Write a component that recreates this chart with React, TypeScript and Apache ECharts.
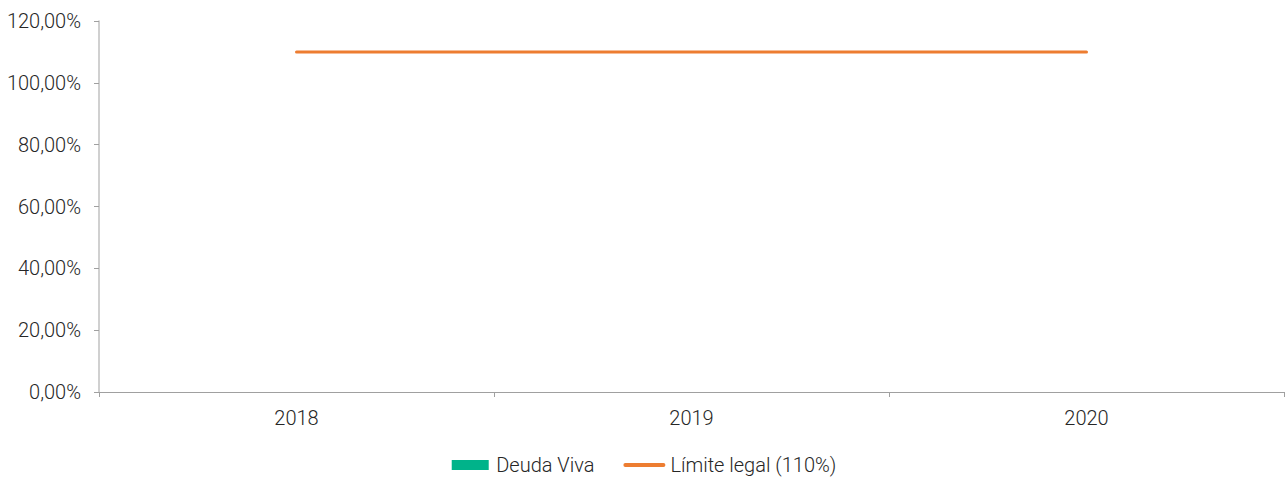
import React, { useEffect, useRef } from "react";
import * as echarts from "echarts";

const categories = ["2018", "2019", "2020"];
const deudaViva = [0, 0, 0];
const limiteLegal = [110, 110, 110];
const yTicks = { min: 0, max: 120, interval: 20 };

export default function App() {
  const ref = useRef<HTMLDivElement>(null);
  useEffect(() => {
    document.body.style.margin = "0";
    const chart = echarts.init(ref.current!, null, { renderer: "svg" });
    const font = { fontFamily: "Roboto", fontWeight: 300 as any, fontSize: 20, color: "#262626" };
    chart.setOption({
      animation: false,
      grid: { left: 99, right: 4, top: 21, bottom: 86, containLabel: false },
      legend: {
        top: 455,
        padding: 0,
        left: "center",
        itemWidth: 42,
        itemHeight: 10,
        itemGap: 29,
        symbolKeepAspect: true,
        textStyle: { ...font },
        data: [
          { name: "Deuda Viva", icon: "path://M0,0 H37 V10 H0 Z" },
          {
            name: "Límite legal (110%)",
            icon: "path://M2,0 H42 A2,2 0 0 1 42,4 H2 A2,2 0 0 1 2,0 Z",
          },
        ],
      },
      xAxis: {
        type: "category",
        data: categories,
        boundaryGap: true,
        axisLine: { lineStyle: { color: "#a0a0a0", width: 1 } },
        axisTick: { show: true, alignWithLabel: false, length: 5, lineStyle: { color: "#a0a0a0" } },
        axisLabel: { ...font, margin: 16 },
      },
      yAxis: {
        type: "value",
        min: yTicks.min,
        max: yTicks.max,
        interval: yTicks.interval,
        splitLine: { show: false },
        axisLine: { show: true, lineStyle: { color: "#c0c0c0", width: 1.5 } },
        axisTick: { show: true, length: 5, lineStyle: { color: "#a0a0a0" } },
        axisLabel: {
          ...font,
          margin: 18,
          formatter: (v: number) => v.toFixed(2).replace(".", ",") + "%",
        },
      },
      series: [
        {
          name: "Deuda Viva",
          type: "bar",
          data: deudaViva,
          itemStyle: { color: "#00b38a" },
          barWidth: "50%",
        },
        {
          name: "Límite legal (110%)",
          type: "line",
          data: limiteLegal,
          symbol: "none",
          lineStyle: { color: "#ed7d31", width: 3, cap: "round" },
          itemStyle: { color: "#ed7d31" },
        },
      ],
    });
    return () => chart.dispose();
  }, []);
  return <div ref={ref} style={{ position: "absolute", left: 0, top: 0, width: 1288, height: 478 }} />;
}
